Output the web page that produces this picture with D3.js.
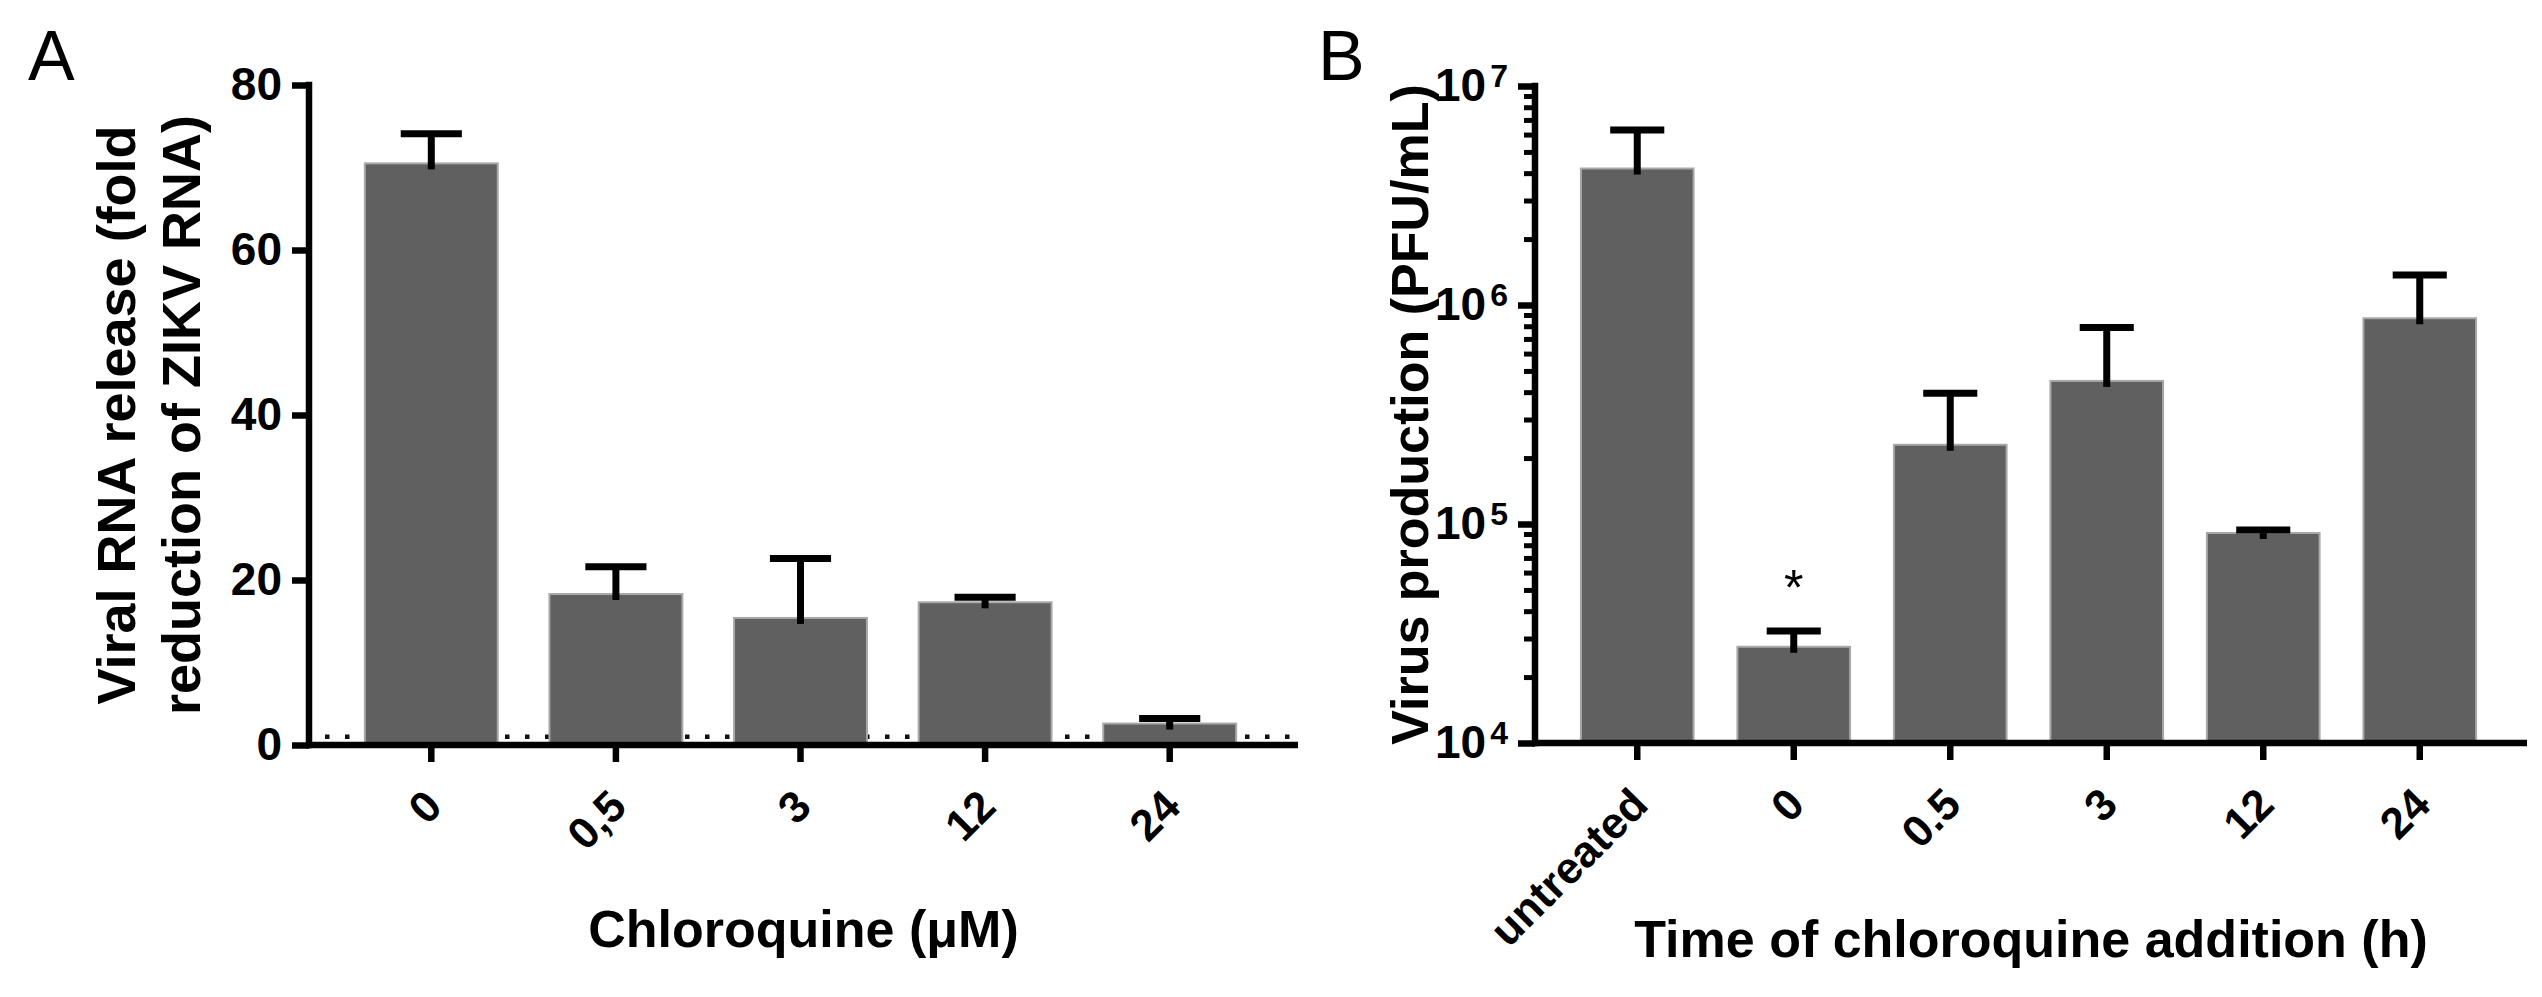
<!DOCTYPE html>
<html>
<head>
  <meta charset="utf-8">
  <title>Chloroquine and ZIKV</title>
  <script src="https://cdn.jsdelivr.net/npm/d3@7"></script>
  <style>
    body { margin: 0; background: #fff; }
    svg { display: block; font-family: "Liberation Sans", Arial, sans-serif; }
    .bar { fill: #606060; stroke: #a8a8a8; stroke-width: 2; }
    .err { stroke: #000; stroke-width: 7; fill: none; }
    .axisline { stroke: #000; stroke-width: 6.5; }
    .tick line { stroke: #000; stroke-width: 6.5; }
    .minor line { stroke: #000; stroke-width: 5; }
  </style>
</head>
<body>
  <script>
    // panel A: viral RNA release vs chloroquine dose
    var doseA = ["0", "0,5", "3", "12", "24"];
    var meanA = [70.5, 18.3, 15.4, 17.3, 2.6];
    var upperA = [74.1, 21.6, 22.6, 17.9, 3.2];
    var ticksA = [0, 20, 40, 60, 80];
    var baselineA = 1;

    // panel B: virus production vs time of addition
    var timeB = ["untreated", "0", "0.5", "3", "12", "24"];
    var meanB = [4.2e6, 2.75e4, 2.3e5, 4.5e5, 9.1e4, 8.7e5];
    var upperB = [6.3e6, 3.25e4, 3.95e5, 7.9e5, 9.4e4, 1.37e6];
    var ticksB = [1e4, 1e5, 1e6, 1e7];
    var starB = ["0"];

    var W = 2542, H = 997;
    var svg = d3.select("body").append("svg")
        .attr("width", W)
        .attr("height", H);

    function styleText(sel, size) {
      sel.selectAll("text")
        .attr("fill", "#000")
        .style("font-size", size + "px")
        .style("font-weight", "bold")
        .style("font-family", "'Liberation Sans', Arial, sans-serif");
    }

    // ---------- panel A ----------
    var axA = {left: 309, right: 1298, bottom: 745, top: 85};

    var xA = d3.scaleBand()
        .domain(doseA)
        .range([339, 1262])
        .paddingInner(0.28)
        .paddingOuter(0.14);

    var yA = d3.scaleLinear()
        .domain([0, 80])
        .range([axA.bottom, axA.top]);

    var dataA = doseA.map((d, i) => ({key: d, mean: meanA[i], upper: upperA[i]}));

    // dotted line at fold = 1
    svg.append("line")
        .attr("x1", axA.left + 16)
        .attr("x2", axA.right)
        .attr("y1", yA(baselineA))
        .attr("y2", yA(baselineA))
        .attr("stroke", "#111")
        .attr("stroke-width", 4.5)
        .attr("stroke-dasharray", "4.5 15.5");

    svg.append("g").selectAll("rect")
        .data(dataA)
        .enter().append("rect")
          .attr("class", "bar")
          .attr("x", d => xA(d.key))
          .attr("y", d => yA(d.mean))
          .attr("width", xA.bandwidth())
          .attr("height", d => yA(0) - yA(d.mean));

    var capA = xA.bandwidth() * 0.46;
    var errA = svg.append("g").selectAll("g")
        .data(dataA)
        .enter().append("g")
          .attr("transform", d => "translate(" + (xA(d.key) + xA.bandwidth() / 2) + ",0)");
    errA.append("line").attr("class", "err")
        .attr("y1", d => yA(d.mean) + 6).attr("y2", d => yA(d.upper));
    errA.append("line").attr("class", "err")
        .attr("x1", -capA / 2).attr("x2", capA / 2)
        .attr("y1", d => yA(d.upper)).attr("y2", d => yA(d.upper));

    var yAxisA = svg.append("g")
        .attr("transform", "translate(" + axA.left + ",0)")
        .call(d3.axisLeft(yA).tickValues(ticksA).tickSize(17).tickSizeOuter(0).tickPadding(10));
    yAxisA.select(".domain").remove();
    styleText(yAxisA, 46);

    var xAxisA = svg.append("g")
        .attr("transform", "translate(0," + axA.bottom + ")")
        .call(d3.axisBottom(xA).tickSize(17).tickSizeOuter(0));
    xAxisA.select(".domain").remove();
    styleText(xAxisA, 44);
    xAxisA.selectAll(".tick text")
        .attr("x", 13).attr("y", 64).attr("dy", 0)
        .attr("text-anchor", "end")
        .attr("transform", "rotate(-45,13,64)");

    svg.append("line").attr("class", "axisline")
        .attr("x1", axA.left).attr("x2", axA.left)
        .attr("y1", axA.bottom + 3.25).attr("y2", axA.top - 3.25);
    svg.append("line").attr("class", "axisline")
        .attr("x1", axA.left - 3).attr("x2", axA.right)
        .attr("y1", axA.bottom).attr("y2", axA.bottom);

    svg.append("text")
        .attr("transform", "translate(135," + (axA.top + axA.bottom) / 2 + ") rotate(-90)")
        .attr("text-anchor", "middle")
        .style("font-size", "54px").style("font-weight", "bold")
      .selectAll("tspan")
        .data(["Viral RNA release (fold", "reduction of ZIKV RNA)"])
        .enter().append("tspan")
          .attr("x", 0)
          .attr("dy", (d, i) => i ? 65 : 0)
          .text(d => d);

    svg.append("text")
        .attr("x", (axA.left + axA.right) / 2)
        .attr("y", 947)
        .attr("text-anchor", "middle")
        .style("font-size", "52px").style("font-weight", "bold")
        .text("Chloroquine (\u03bcM)");

    svg.append("text")
        .attr("x", 28).attr("y", 80)
        .style("font-size", "70px")
        .text("A");

    // ---------- panel B ----------
    var axB = {left: 1535, right: 2527, bottom: 743, top: 86};

    var xB = d3.scaleBand()
        .domain(timeB)
        .range([1559, 2498])
        .paddingInner(0.28)
        .paddingOuter(0.14);

    var yB = d3.scaleLog()
        .domain([1e4, 1e7])
        .range([axB.bottom, axB.top]);

    var dataB = timeB.map((d, i) => ({key: d, mean: meanB[i], upper: upperB[i]}));

    svg.append("g").selectAll("rect")
        .data(dataB)
        .enter().append("rect")
          .attr("class", "bar")
          .attr("x", d => xB(d.key))
          .attr("y", d => yB(d.mean))
          .attr("width", xB.bandwidth())
          .attr("height", d => yB(1e4) - yB(d.mean));

    var capB = xB.bandwidth() * 0.48;
    var errB = svg.append("g").selectAll("g")
        .data(dataB)
        .enter().append("g")
          .attr("transform", d => "translate(" + (xB(d.key) + xB.bandwidth() / 2) + ",0)");
    errB.append("line").attr("class", "err")
        .attr("y1", d => yB(d.mean) + 6).attr("y2", d => yB(d.upper));
    errB.append("line").attr("class", "err")
        .attr("x1", -capB / 2).attr("x2", capB / 2)
        .attr("y1", d => yB(d.upper)).attr("y2", d => yB(d.upper));

    svg.append("g").selectAll("text")
        .data(dataB.filter(d => starB.includes(d.key)))
        .enter().append("text")
          .attr("x", d => xB(d.key) + xB.bandwidth() / 2)
          .attr("y", d => yB(d.upper) - 26)
          .attr("text-anchor", "middle")
          .style("font-size", "50px")
          .text("*");

    // minor log ticks
    var minorB = yB.ticks().filter(v => ticksB.indexOf(v) < 0);
    var minorAxis = svg.append("g")
        .attr("class", "minor")
        .attr("transform", "translate(" + axB.left + ",0)")
        .call(d3.axisLeft(yB).tickValues(minorB).tickSize(11).tickSizeOuter(0).tickFormat(""));
    minorAxis.select(".domain").remove();
    minorAxis.selectAll("line").attr("stroke-width", 5);

    var yAxisB = svg.append("g")
        .attr("transform", "translate(" + axB.left + ",0)")
        .call(d3.axisLeft(yB).tickValues(ticksB).tickSize(17).tickSizeOuter(0).tickPadding(10));
    yAxisB.select(".domain").remove();
    styleText(yAxisB, 46);
    yAxisB.selectAll(".tick text").each(function(v) {
      var t = d3.select(this).text(null);
      t.append("tspan").text("10");
      t.append("tspan")
        .attr("dx", 4).attr("dy", -14)
        .style("font-size", "32px")
        .text(Math.round(Math.log10(v)));
    });

    var xAxisB = svg.append("g")
        .attr("transform", "translate(0," + axB.bottom + ")")
        .call(d3.axisBottom(xB).tickSize(17).tickSizeOuter(0));
    xAxisB.select(".domain").remove();
    styleText(xAxisB, 44);
    xAxisB.selectAll(".tick text")
        .attr("x", 13).attr("y", 64).attr("dy", 0)
        .attr("text-anchor", "end")
        .attr("transform", "rotate(-45,13,64)");

    svg.append("line").attr("class", "axisline")
        .attr("x1", axB.left).attr("x2", axB.left)
        .attr("y1", axB.bottom + 3.25).attr("y2", axB.top - 3.25);
    svg.append("line").attr("class", "axisline")
        .attr("x1", axB.left - 3).attr("x2", axB.right)
        .attr("y1", axB.bottom).attr("y2", axB.bottom);

    svg.append("text")
        .attr("transform", "translate(1428," + (axB.top + axB.bottom) / 2 + ") rotate(-90)")
        .attr("text-anchor", "middle")
        .style("font-size", "52px").style("font-weight", "bold")
        .text("Virus production (PFU/mL)");

    svg.append("text")
        .attr("x", (axB.left + axB.right) / 2)
        .attr("y", 957)
        .attr("text-anchor", "middle")
        .style("font-size", "52px").style("font-weight", "bold")
        .text("Time of chloroquine addition (h)");

    svg.append("text")
        .attr("x", 1318).attr("y", 80)
        .style("font-size", "70px")
        .text("B");
  </script>
</body>
</html>
